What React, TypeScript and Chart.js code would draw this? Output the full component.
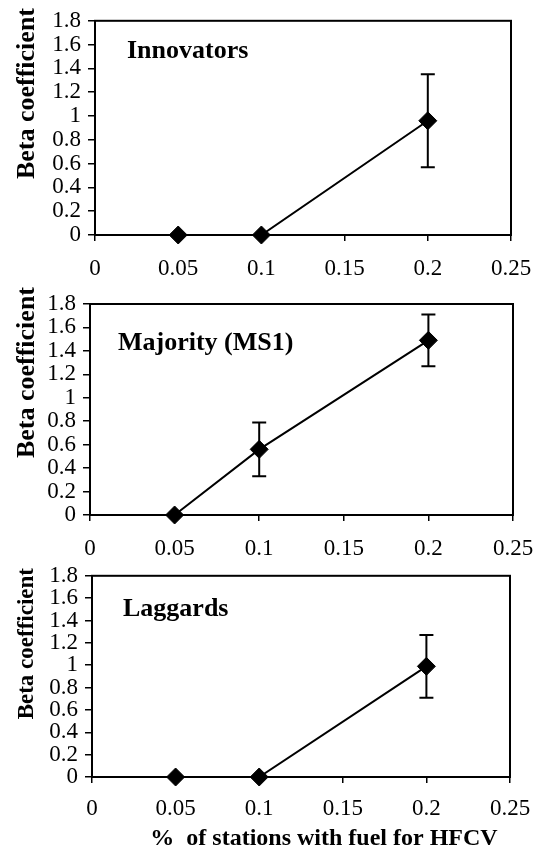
import React, { useEffect, useRef } from "react";
import { Chart, registerables } from "chart.js";

Chart.register(...registerables);

// Share of stations offering HFCV fuel (x positions of the estimates)
const stationShare = [0.05, 0.1, 0.2];

// Beta coefficients and their error half-widths per adopter group
const innovatorsBeta = [0, 0, 0.96];
const innovatorsErr = [0, 0, 0.39];
const majorityBeta = [0, 0.56, 1.49];
const majorityErr = [0, 0.23, 0.22];
const laggardsBeta = [0, 0, 0.99];
const laggardsErr = [0, 0, 0.28];

const groupNames = ["Innovators", "Majority (MS1)", "Laggards"];

const xTickLabels = ["0", "0.05", "0.1", "0.15", "0.2", "0.25"];
const yTickLabels = ["0", "0.2", "0.4", "0.6", "0.8", "1", "1.2", "1.4", "1.6", "1.8"];

const yTitle = "Beta coefficient";
const xTitle = "%  of stations with fuel for HFCV";

const SERIF = '"Liberation Serif", "Times New Roman", Times, serif';
const PAGE_W = 548;

type PanelBox = {
  top: number;
  height: number;
  left: number;
  right: number;
  areaTop: number;
  areaBottom: number;
  labelDx: number;
  labelDy: number;
  titleEnd: number;
  titleSize: number;
  tickPad: number;
  showXTitle: boolean;
};

// Placement of each stacked panel on the page
const panelBoxes: PanelBox[] = [
  { top: 0, height: 290, left: 95, right: 511, areaTop: 16, areaBottom: 235, labelDx: 32, labelDy: 37, titleEnd: 8, titleSize: 26, tickPad: 14, showXTitle: false },
  { top: 280, height: 290, left: 90, right: 513, areaTop: 24, areaBottom: 235, labelDx: 28, labelDy: 46, titleEnd: 7, titleSize: 26, tickPad: 14, showXTitle: false },
  { top: 555, height: 296, left: 92, right: 510, areaTop: 17, areaBottom: 222, labelDx: 31, labelDy: 40, titleEnd: 13, titleSize: 23, tickPad: 12, showXTitle: true },
];

const panelSeries = [
  { name: groupNames[0], beta: innovatorsBeta, err: innovatorsErr },
  { name: groupNames[1], beta: majorityBeta, err: majorityErr },
  { name: groupNames[2], beta: laggardsBeta, err: laggardsErr },
];

function Panel({ index }: { index: number }) {
  const ref = useRef<HTMLCanvasElement | null>(null);
  const box = panelBoxes[index];
  const series = panelSeries[index];

  useEffect(() => {
    const canvas = ref.current;
    if (!canvas) return;

    // Vertical error bars with caps, drawn beneath the line and markers
    const errorBars = {
      id: "errorBars",
      beforeDatasetsDraw(chart: any) {
        const { ctx, scales } = chart;
        ctx.save();
        ctx.strokeStyle = "#000";
        ctx.lineWidth = 2;
        stationShare.forEach((x, i) => {
          const e = series.err[i];
          if (!e) return;
          const px = scales.x.getPixelForValue(x);
          const hi = scales.y.getPixelForValue(series.beta[i] + e);
          const lo = scales.y.getPixelForValue(series.beta[i] - e);
          const cap = 7;
          ctx.beginPath();
          ctx.moveTo(px, hi);
          ctx.lineTo(px, lo);
          ctx.moveTo(px - cap, hi);
          ctx.lineTo(px + cap, hi);
          ctx.moveTo(px - cap, lo);
          ctx.lineTo(px + cap, lo);
          ctx.stroke();
        });
        ctx.restore();
      },
    };

    // Plot frame, group name, rotated y title and (bottom panel) x title
    const frameAndText = {
      id: "frameAndText",
      afterDraw(chart: any) {
        const { ctx, chartArea } = chart;
        ctx.save();
        ctx.strokeStyle = "#000";
        ctx.lineWidth = 2;
        ctx.strokeRect(chartArea.left, chartArea.top, chartArea.right - chartArea.left, chartArea.bottom - chartArea.top);

        ctx.fillStyle = "#000";
        ctx.font = `bold 26px ${SERIF}`;
        ctx.textAlign = "left";
        ctx.textBaseline = "alphabetic";
        ctx.fillText(series.name, chartArea.left + box.labelDx, chartArea.top + box.labelDy);

        ctx.save();
        ctx.translate(27, box.titleEnd);
        ctx.rotate(-Math.PI / 2);
        ctx.font = `bold ${box.titleSize}px ${SERIF}`;
        ctx.textAlign = "right";
        ctx.textBaseline = "middle";
        ctx.fillText(yTitle, 0, 0);
        ctx.restore();

        if (box.showXTitle) {
          ctx.font = `bold 24px ${SERIF}`;
          ctx.textAlign = "center";
          ctx.textBaseline = "alphabetic";
          ctx.fillText(xTitle, 324, 290);
        }
        ctx.restore();
      },
    };

    const xTickValues = xTickLabels.map(Number);
    const yTickValues = yTickLabels.map(Number);
    const tickFont = { family: SERIF, size: 23 };

    const chart = new Chart(canvas, {
      type: "line",
      data: {
        datasets: [
          {
            data: stationShare.map((x, i) => ({ x, y: series.beta[i] })),
            borderColor: "#000",
            borderWidth: 2,
            backgroundColor: "#000",
            pointStyle: "rectRot",
            pointRadius: 9,
            pointBackgroundColor: "#000",
            pointBorderColor: "#000",
            pointBorderWidth: 1,
            fill: false,
            tension: 0,
            clip: false as any,
          },
        ],
      },
      options: {
        responsive: false,
        animation: false,
        devicePixelRatio: 1,
        layout: { padding: { left: 0, top: box.areaTop, right: PAGE_W - box.right, bottom: 0 } },
        plugins: { legend: { display: false }, tooltip: { enabled: false } },
        scales: {
          x: {
            type: "linear",
            min: 0,
            max: 0.25,
            afterBuildTicks: (scale: any) => {
              scale.ticks = xTickValues.map((value) => ({ value }));
            },
            afterFit: (scale: any) => {
              scale.height = box.height - box.areaBottom;
            },
            ticks: {
              autoSkip: false,
              maxRotation: 0,
              color: "#000",
              font: tickFont,
              padding: box.tickPad,
              callback: (_v: any, i: number) => xTickLabels[i],
            },
            grid: { drawOnChartArea: false, drawTicks: true, tickLength: 6, color: "#000", lineWidth: 1.5 },
            border: { display: true, color: "#000", width: 2 },
          },
          y: {
            type: "linear",
            min: 0,
            max: 1.8,
            afterBuildTicks: (scale: any) => {
              scale.ticks = yTickValues.map((value) => ({ value }));
            },
            afterFit: (scale: any) => {
              scale.width = box.left;
            },
            ticks: {
              autoSkip: false,
              color: "#000",
              font: tickFont,
              padding: 7,
              callback: (_v: any, i: number) => yTickLabels[i],
            },
            grid: { drawOnChartArea: false, drawTicks: true, tickLength: 7, color: "#000", lineWidth: 1.5 },
            border: { display: true, color: "#000", width: 2 },
          },
        },
      } as any,
      plugins: [errorBars, frameAndText],
    });

    return () => chart.destroy();
  }, [index]);

  return (
    <canvas
      ref={ref}
      width={PAGE_W}
      height={box.height}
      style={{ position: "absolute", left: 0, top: box.top, width: PAGE_W, height: box.height }}
    />
  );
}

export default function App() {
  return (
    <div style={{ position: "absolute", left: 0, top: 0, width: PAGE_W, height: 851, background: "#fff", overflow: "hidden" }}>
      {panelSeries.map((_, i) => (
        <Panel key={i} index={i} />
      ))}
    </div>
  );
}
